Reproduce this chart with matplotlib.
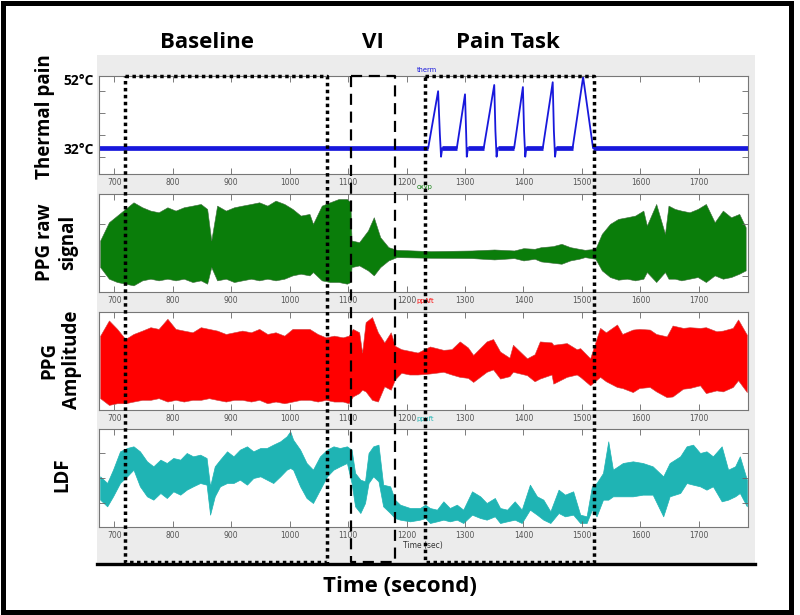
import numpy as np
import matplotlib
matplotlib.use("Agg")
import matplotlib.pyplot as plt
import matplotlib.transforms as mtransforms
from matplotlib.lines import Line2D
from matplotlib.patches import Rectangle

# ---------------- data ----------------
x_ticks = [700, 800, 900, 1000, 1100, 1200, 1300, 1400, 1500, 1600, 1700]
x_range = (674, 1784)

# thermal stimulus (deg C)
therm_t = [674, 1237, 1254, 1257, 1259, 1261, 1286, 1300, 1302, 1303, 1305, 1332, 1350, 1352,
           1354, 1356, 1384, 1399, 1401, 1403, 1405, 1433, 1450, 1452, 1454, 1456, 1484, 1502,
           1519, 1784]
therm_c = [32, 32, 48.5, 36, 29.5, 32, 32, 47.6, 36, 29.5, 32, 32, 50.3, 37,
           29.5, 32, 32, 49.7, 37, 29.5, 32, 32, 51.1, 37, 29.5, 32, 32, 52.6,
           32, 32]
therm_ylim = (24.5, 52.9)
therm_labels = ["32°C", "52°C"]
therm_label_vals = [32, 52]

# PPG raw signal envelope (arbitrary units)
ppg_t = [676, 691, 705, 719, 733, 748, 762, 776, 791, 805, 819, 834, 848, 859, 866, 876, 891,
         905, 919, 934, 948, 962, 976, 991, 1005, 1019, 1034, 1040, 1055, 1069, 1084, 1098,
         1104, 1106, 1119, 1134, 1144, 1155, 1169, 1183, 1241, 1312, 1350, 1384, 1400, 1419,
         1430, 1450, 1465, 1480, 1495, 1505, 1523, 1534, 1548, 1562, 1577, 1591, 1605, 1611,
         1627, 1642, 1648, 1659, 1670, 1684, 1698, 1712, 1727, 1741, 1755, 1769, 1780]
ppg_hi = [155, 210, 230, 250, 270, 255, 245, 240, 255, 245, 255, 260, 265, 250, 155, 260, 245,
          255, 260, 265, 270, 260, 275, 265, 250, 230, 235, 205, 260, 270, 280, 280,
          270, 155, 150, 185, 225, 165, 135, 127, 123, 125, 128, 125, 132, 130,
          135, 138, 145, 135, 130, 127, 130, 175, 205, 220, 225, 230, 245, 200,
          265, 175, 260, 250, 245, 240, 250, 265, 210, 245, 225, 235, 195]
ppg_lo = [75, 40, 30, 25, 20, 35, 40, 35, 40, 35, 40, 30, 35, 25, 75, 35, 40,
          30, 35, 40, 35, 40, 35, 40, 50, 55, 50, 60, 35, 30, 30, 25,
          30, 75, 80, 65, 50, 75, 95, 105, 103, 102, 98, 102, 95, 100,
          92, 88, 85, 95, 100, 105, 100, 65, 45, 37, 40, 35, 40, 60,
          30, 60, 40, 40, 35, 40, 45, 30, 50, 40, 45, 55, 65]
ppg_ylim = (0, 295)

# PPG amplitude envelope (arbitrary units)
amp_t = [676, 691, 705, 719, 733, 748, 762, 776, 791, 805, 819, 834, 848, 862, 876, 891, 905,
         919, 934, 948, 962, 976, 991, 1005, 1019, 1034, 1048, 1062, 1076, 1091, 1101, 1108,
         1119, 1124, 1130, 1141, 1151, 1162, 1173, 1180, 1191, 1205, 1219, 1240, 1263, 1277,
         1291, 1305, 1314, 1337, 1348, 1360, 1376, 1382, 1406, 1419, 1428, 1448, 1451, 1474,
         1491, 1497, 1514, 1531, 1541, 1560, 1569, 1587, 1598, 1616, 1627, 1645, 1655, 1673,
         1684, 1702, 1712, 1730, 1741, 1758, 1767, 1782]
amp_hi = [220, 265, 240, 210, 225, 235, 245, 240, 270, 240, 235, 230, 245, 240, 235, 225, 230,
          235, 230, 240, 225, 230, 220, 240, 240, 240, 225, 215, 220, 215, 220, 240,
          230, 170, 260, 275, 230, 200, 230, 190, 180, 175, 170, 188, 178, 180,
          203, 185, 163, 203, 210, 173, 155, 193, 153, 165, 203, 200, 193, 198,
          180, 183, 153, 243, 230, 253, 225, 238, 240, 238, 225, 218, 250, 243,
          245, 243, 245, 233, 235, 243, 268, 223]
amp_lo = [35, 15, 20, 20, 25, 30, 30, 35, 25, 30, 25, 30, 30, 35, 30, 25, 30,
          30, 25, 30, 20, 25, 20, 25, 30, 30, 25, 30, 25, 25, 20, 40,
          50, 60, 55, 30, 25, 70, 60, 90, 110, 105, 105, 108, 113, 105,
          98, 95, 83, 113, 120, 93, 100, 113, 103, 85, 93, 105, 78, 98,
          105, 98, 73, 98, 85, 68, 65, 53, 65, 68, 55, 38, 40, 63,
          65, 73, 50, 58, 55, 68, 88, 53]
amp_ylim = (0, 290)

# LDF envelope (arbitrary units)
ldf_t = [676, 688, 698, 710, 722, 733, 744, 756, 767, 779, 790, 801, 813, 824, 835, 847, 858,
         864, 872, 881, 893, 904, 915, 927, 938, 950, 961, 972, 984, 995, 1001, 1006, 1018,
         1029, 1040, 1052, 1064, 1075, 1086, 1098, 1106, 1112, 1121, 1129, 1135, 1143, 1152,
         1160, 1172, 1180, 1189, 1206, 1223, 1232, 1240, 1252, 1263, 1274, 1286, 1297, 1312,
         1326, 1337, 1351, 1360, 1372, 1385, 1397, 1411, 1423, 1434, 1446, 1460, 1471, 1485,
         1497, 1508, 1517, 1525, 1536, 1545, 1553, 1570, 1587, 1604, 1621, 1639, 1650, 1668,
         1679, 1690, 1702, 1713, 1724, 1739, 1750, 1762, 1770, 1782]
ldf_hi = [152, 132, 172, 227, 237, 242, 227, 197, 182, 202, 192, 207, 202, 222, 212, 217, 207,
          122, 182, 202, 227, 212, 232, 242, 227, 237, 237, 247, 257, 272, 287, 262, 232,
          192, 172, 212, 232, 242, 237, 242, 232, 162, 142, 137, 222, 242, 247,
          127, 122, 82, 67, 57, 57, 67, 57, 52, 77, 57, 67, 52, 107,
          92, 72, 87, 57, 52, 77, 52, 127, 92, 82, 47, 112, 97, 107,
          37, 32, 122, 132, 162, 257, 172, 192, 197, 192, 182, 152, 192, 212,
          242, 247, 222, 227, 212, 242, 172, 182, 212, 142]
ldf_lo = [82, 62, 92, 132, 152, 172, 122, 92, 82, 102, 87, 107, 97, 112, 122, 132, 127,
          37, 92, 122, 132, 132, 142, 127, 147, 152, 142, 132, 152, 172, 177, 172, 122,
          87, 72, 112, 152, 172, 182, 192, 132, 62, 42, 72, 132, 152, 137,
          62, 42, 27, 22, 17, 22, 27, 12, 17, 22, 17, 22, 12, 37,
          27, 22, 32, 12, 17, 22, 12, 52, 37, 22, 12, 42, 32, 37,
          12, 12, 52, 32, 82, 82, 92, 92, 92, 97, 97, 32, 92, 102,
          132, 127, 122, 112, 122, 77, 82, 92, 102, 62]
ldf_ylim = (0, 294)

# experiment phases (start, end in seconds)
phase_names = ["Baseline", "VI", "Pain Task"]
phase_start = [719, 1105, 1232]
phase_end = [1064, 1180, 1520]
phase_label_t = [859, 1143, 1373]

panel_labels = ["Thermal pain", "PPG raw\nsignal", "PPG\nAmplitude", "LDF"]
panel_tags = ["therm", "oxyp", "ppAft", "ppuft"]

# ---------------- figure ----------------
W, H = 800, 615
fig = plt.figure(figsize=(W / 100, H / 100), dpi=100)
fig.patch.set_facecolor("white")

def fx(px):
    return px / W

def fy(py):
    return 1 - py / H

# gray MATLAB-like panel
fig.add_artist(Rectangle((fx(97), fy(563)), fx(755) - fx(97), fy(55) - fy(563),
                         transform=fig.transFigure, facecolor="#ececec",
                         edgecolor="none", zorder=-10))
fig.add_artist(Line2D([fx(97), fx(755)], [fy(564), fy(564)], transform=fig.transFigure,
                      color="black", lw=2.4, zorder=1))
# outer frame
fig.add_artist(Rectangle((fx(3), fy(612)), fx(791) - fx(3), fy(2.5) - fy(612),
                         transform=fig.transFigure, facecolor="none",
                         edgecolor="black", lw=3.6, zorder=5))

ax_tops = [76, 194, 312, 429]
ax_h = 98
left, right = 99, 748
axes = []
for top in ax_tops:
    ax = fig.add_axes([fx(left), fy(top + ax_h), fx(right) - fx(left), fy(top) - fy(top + ax_h)])
    ax.set_facecolor("white")
    ax.set_xlim(*x_range)
    ax.set_xticks(x_ticks)
    ax.set_xticklabels([str(v) for v in x_ticks])
    ax.tick_params(axis="x", direction="in", length=4, width=0.6, color="#666666",
                   labelsize=5.5, labelcolor="#555555", pad=3, top=True)
    for s in ax.spines.values():
        s.set_color("#777777")
        s.set_linewidth(0.8)
    axes.append(ax)

blue = "#1818dc"
green = "#0a7d0a"
red = "#ff0000"
cyan = "#1fb4b4"

# panel 1: thermal
ax = axes[0]
tt = np.array(therm_t, dtype=float)
tc = np.array(therm_c, dtype=float)
ax.plot(tt, tc, color=blue, lw=1.3)
flat = np.where(tc == 32, tc, np.nan)
ax.plot(tt, flat, color=blue, lw=3.4, solid_capstyle="butt")
ax.set_ylim(*therm_ylim)
ax.set_yticks(therm_label_vals)
ax.set_yticklabels([therm_labels[therm_label_vals.index(v)] for v in therm_label_vals],
                   fontfamily="Open Sans", fontweight="bold", fontsize=10)
ax.set_yticks([29.4, 35.8, 42.1, 48.5], minor=True)
ax.tick_params(axis="y", which="major", length=0, pad=4)
ax.tick_params(axis="y", which="minor", direction="in", length=4, width=0.6,
               color="#666666", right=True)

# panel 2: PPG raw
ax = axes[1]
ax.fill_between(ppg_t, ppg_lo, ppg_hi, color=green, lw=0.4, edgecolor="#3d6e3d")
ax.set_ylim(*ppg_ylim)
ax.set_yticks([47, 205])
ax.set_yticklabels([])
ax.tick_params(axis="y", direction="in", length=4, width=0.6, color="#666666", right=True)

# panel 3: PPG amplitude
ax = axes[2]
ax.fill_between(amp_t, amp_lo, amp_hi, color=red, lw=0.4, edgecolor="#d04040")
ax.set_ylim(*amp_ylim)
ax.set_yticks([])

# panel 4: LDF
ax = axes[3]
ax.fill_between(ldf_t, ldf_lo, ldf_hi, color=cyan, lw=0.5, edgecolor=cyan)
ax.set_ylim(*ldf_ylim)
ax.set_yticks([72, 148, 222])
ax.set_yticklabels([])
ax.tick_params(axis="y", direction="in", length=4, width=0.6, color="#666666", right=True)
ax.text(1228, -0.19, "Time (sec)", transform=mtransforms.blended_transform_factory(
    ax.transData, ax.transAxes), fontsize=5.5, color="#333333", ha="center", va="center")

# small tags above each axes
tag_colors = [blue, green, red, cyan]
tag_offsets = [6, 7, 11, 10]
tag_t = [1218, 1218, 1217, 1217]
for ax, tag, c, off, t in zip(axes, panel_tags, tag_colors, tag_offsets, tag_t):
    tr = mtransforms.blended_transform_factory(ax.transData, fig.transFigure)
    top_px = H - ax.get_position().y1 * H
    ax.text(t, fy(top_px - off), tag, transform=tr, fontsize=4.8, color=c,
            ha="left", va="center", clip_on=False)

# panel y labels
lab_pos = [(45, 117), (57, 242), (61, 360), (62, 475)]
for lab, (px, py) in zip(panel_labels, lab_pos):
    fig.text(fx(px), fy(py), lab, rotation=90, ha="center", va="center",
             fontfamily="Open Sans", fontweight="bold", fontsize=13.5, linespacing=1.2)

# phase rectangles
tr = mtransforms.blended_transform_factory(axes[0].transData, fig.transFigure)
rect_top, rect_bot = fy(76), fy(562)
styles = [(0, (1, 1)), (0, (5, 3)), (0, (1, 1))]
widths = [2.5, 1.6, 2.5]
for s, e, ls, lw in zip(phase_start, phase_end, styles, widths):
    fig.add_artist(Line2D([s, e, e, s, s], [rect_top, rect_top, rect_bot, rect_bot, rect_top],
                          transform=tr, color="black", lw=lw, linestyle=ls,
                          dash_capstyle="butt", zorder=6))
for name, t in zip(phase_names, phase_label_t):
    fig.text(t, fy(42), name, transform=tr, ha="center", va="center",
             fontfamily="Open Sans", fontweight="bold", fontsize=16)

fig.text(fx(400), fy(587), "Time (second)", ha="center", va="center",
         fontfamily="Open Sans", fontweight="bold", fontsize=16)

fig.savefig("out.png", dpi=100)
